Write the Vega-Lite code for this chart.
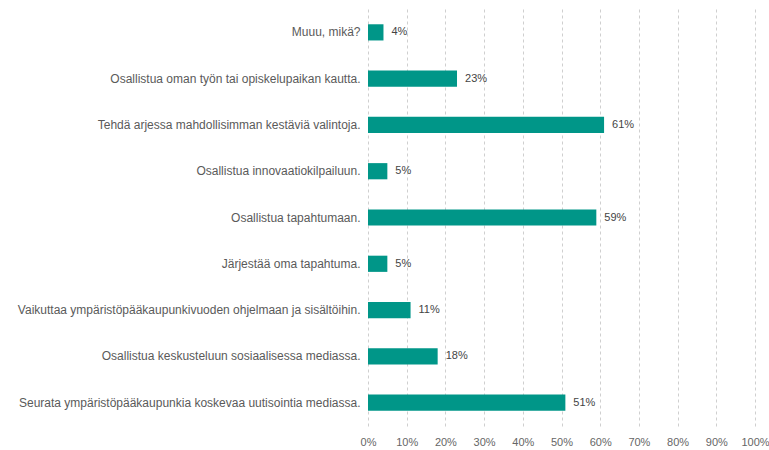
{
  "$schema": "https://vega.github.io/schema/vega-lite/v6.json",
  "autosize": "none",
  "width": 387,
  "height": 417,
  "padding": {"left": 368, "top": 9, "right": 14, "bottom": 24},
  "background": "white",
  "config": {"view": {"stroke": null}, "font": "Liberation Sans"},
  "data": {"values": [
    {"label": "Muuu, mikä?", "value": 0.04},
    {"label": "Osallistua oman työn tai opiskelupaikan kautta.", "value": 0.23},
    {"label": "Tehdä arjessa mahdollisimman kestäviä valintoja.", "value": 0.61},
    {"label": "Osallistua innovaatiokilpailuun.", "value": 0.05},
    {"label": "Osallistua tapahtumaan.", "value": 0.59},
    {"label": "Järjestää oma tapahtuma.", "value": 0.05},
    {"label": "Vaikuttaa ympäristöpääkaupunkivuoden ohjelmaan ja sisältöihin.", "value": 0.11},
    {"label": "Osallistua keskusteluun sosiaalisessa mediassa.", "value": 0.18},
    {"label": "Seurata ympäristöpääkaupunkia koskevaa uutisointia mediassa.", "value": 0.51}
  ]},
  "encoding": {
    "y": {"field": "label", "type": "nominal", "sort": null,
      "scale": {"paddingInner": 0.65, "paddingOuter": 0.33},
      "axis": {"title": null, "domain": false, "ticks": false, "labelFontSize": 12, "labelColor": "#5a5a5a", "labelPadding": 8, "labelLimit": 400, "labelFont": "Liberation Sans"}},
    "x": {"field": "value", "type": "quantitative",
      "scale": {"domain": [0, 1]},
      "axis": {"title": null, "values": [0,0.1,0.2,0.3,0.4,0.5,0.6,0.7,0.8,0.9,1], "format": ".0%", "labelOverlap": false, "labelFlush": false, "domain": false, "ticks": false, "grid": true, "gridDash": [3, 3], "gridColor": "#cfcfcf", "labelFontSize": 11, "labelColor": "#666666", "labelPadding": 10, "labelFont": "Liberation Sans"}}
  },
  "layer": [
    {"mark": {"type": "bar", "color": "#009688"}},
    {"mark": {"type": "text", "align": "left", "dx": 8, "fontSize": 11, "color": "#444444", "font": "Liberation Sans"},
     "encoding": {"text": {"field": "value", "type": "quantitative", "format": ".0%"}}}
  ]
}
